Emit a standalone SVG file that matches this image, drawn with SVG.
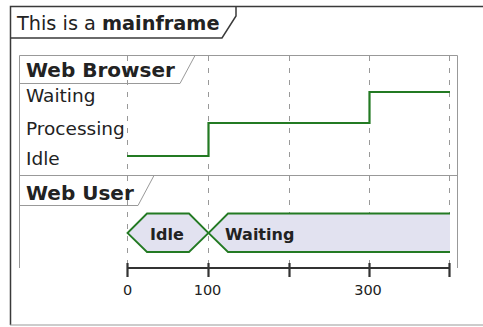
<svg xmlns="http://www.w3.org/2000/svg" width="483" height="327" viewBox="0 0 483 327">
<style>
.frame{fill:none;stroke:#3a3a3a;stroke-width:1.5}
.panel{fill:none;stroke:#999;stroke-width:1}
.grid{stroke:#999;stroke-width:1;stroke-dasharray:5 7}
.sig{fill:none;stroke:#237a23;stroke-width:2.2}
.hex{fill:#E2E2F0;stroke:#237a23;stroke-width:1.8}
.t{font-family:"DejaVu Sans",sans-serif;fill:#222}
.b{font-weight:bold}
.axis{stroke:#333;stroke-width:2.2}
</style>
<rect width="483" height="327" fill="#fff"/>
<g id="mainframe">
<path class="frame" d="M490 6.5 H10.5 V325"/>
<line x1="10" y1="325" x2="490" y2="325" stroke="#999" stroke-width="1.2"/>
<path class="frame" d="M10.5 38 H222 L236 16 V6.5"/>
<text class="t" x="17" y="30" font-size="19.3" fill="#000">This is a <tspan class="b">mainframe</tspan></text>
</g>
<g id="panel">
<path class="panel" d="M19.5 268 V55.5 H457.5 V268"/>
<line class="panel" x1="19.5" y1="175.5" x2="457.5" y2="175.5"/>
</g>
<g id="grid">
<line class="grid" x1="127.5" y1="56" x2="127.5" y2="266"/>
<line class="grid" x1="208.5" y1="56" x2="208.5" y2="266"/>
<line class="grid" x1="289.5" y1="56" x2="289.5" y2="266"/>
<line class="grid" x1="369.5" y1="56" x2="369.5" y2="266"/>
<line class="grid" x1="449.5" y1="56" x2="449.5" y2="266"/>
</g>
<g id="webBrowser">
<path class="panel" d="M19.5 83.5 H180 L195 55.5"/>
<text class="t b" x="26" y="77" font-size="20">Web Browser</text>
<text class="t" x="26" y="102" font-size="18.5" fill="#333">Waiting</text>
<text class="t" x="26" y="135" font-size="18.5" fill="#333">Processing</text>
<text class="t" x="26" y="165" font-size="18.5" fill="#333">Idle</text>
</g>
<g id="connectors">
<path class="sig" d="M127 156 H208.5 V123 H369.5 V92 H450"/>
</g>
<g id="webUser">
<path class="panel" d="M19.5 205.5 H138 L154 175.5"/>
<text class="t b" x="26" y="200" font-size="20">Web User</text>
<g id="stateIdle">
<polygon class="hex" points="127.5,233 147,213.5 189,213.5 208.5,233 189,252 147,252"/>
<text class="t b" x="150" y="240" font-size="16">Idle</text>
</g>
<g id="stateWaiting">
<polygon points="208.5,233 228,213.5 450,213.5 450,252 228,252" fill="#E2E2F0"/>
<path class="hex" d="M450 213.5 H228 L208.5 233 L228 252 H450" style="fill:none"/>
<text class="t b" x="225" y="240" font-size="16">Waiting</text>
</g>
</g>
<g id="axis">
<line class="axis" x1="127" y1="268" x2="450" y2="268"/>
<line class="axis" x1="127.5" y1="263" x2="127.5" y2="277"/>
<line class="axis" x1="208.5" y1="263" x2="208.5" y2="277"/>
<line class="axis" x1="289.5" y1="263" x2="289.5" y2="277"/>
<line class="axis" x1="369.5" y1="263" x2="369.5" y2="277"/>
<line class="axis" x1="449.5" y1="263" x2="449.5" y2="277"/>
<text class="t" x="127.5" y="295" font-size="14.5" text-anchor="middle">0</text>
<text class="t" x="207.5" y="295" font-size="14.5" text-anchor="middle">100</text>
<text class="t" x="368" y="295" font-size="14.5" text-anchor="middle">300</text>
</g>
</svg>
